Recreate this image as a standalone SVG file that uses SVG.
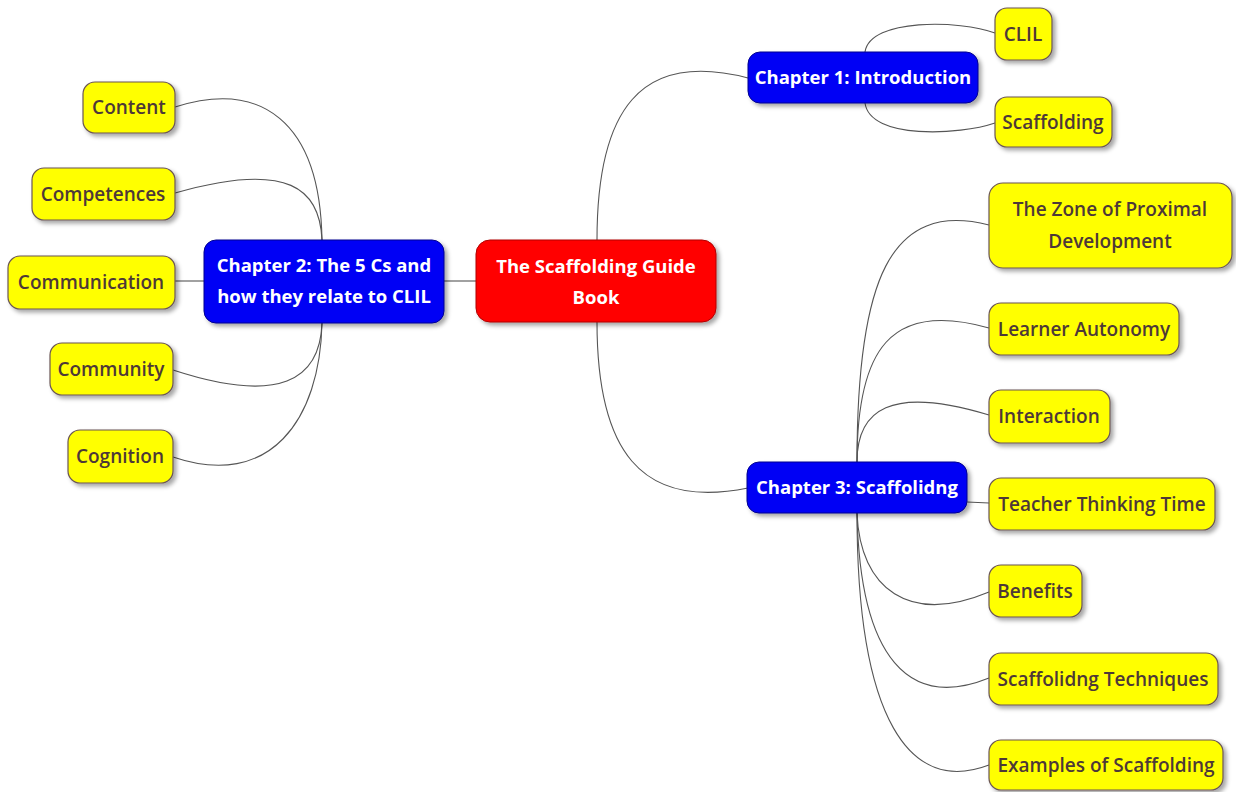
<svg xmlns="http://www.w3.org/2000/svg" width="1236" height="792" viewBox="0 0 1236 792">
<defs>
<filter id="sh" x="-10%" y="-20%" width="130%" height="150%">
<feDropShadow dx="3" dy="3" stdDeviation="2" flood-color="#000" flood-opacity="0.35"/>
</filter>
<style>
.leaf rect{fill:#ffff00;stroke:#6b5555;stroke-width:1.2;filter:url(#sh)}
.leaf text{fill:#4d3838;font-family:"Open Sans","Noto Sans",sans-serif;font-weight:600;font-size:19px;text-anchor:middle}
.chap rect{fill:#0000f5;stroke:#000090;stroke-width:1;filter:url(#sh)}
.chap text,.root text{fill:#fff;font-family:"Open Sans","Noto Sans",sans-serif;font-weight:700;font-size:18.5px;text-anchor:middle}
.root rect{fill:#ff0000;stroke:#b00000;stroke-width:1;filter:url(#sh)}
#connectors path{fill:none;stroke:#555;stroke-width:1.1}
</style>
</defs>
<rect width="1236" height="792" fill="#ffffff"/>
<g id="connectors">
<path d="M597 240 C597 110 640 50 748 78"/>
<path d="M597 322 C597 450 640 510 748 488"/>
<path d="M444 281 L476 281"/>
<path d="M865 52 C870 18 960 20 995 33"/>
<path d="M865 103 C870 140 960 135 995 123"/>
<path d="M322 240 C320 120 260 80 175 107"/>
<path d="M322 240 C320 190 290 160 175 193"/>
<path d="M175 281 L204 281"/>
<path d="M322 323 C320 380 280 405 173 370"/>
<path d="M322 323 C320 420 270 490 173 457"/>
<path d="M857 462 C857 280 890 200 989 225"/>
<path d="M857 462 C857 350 890 300 989 328"/>
<path d="M857 462 C857 410 890 385 989 415"/>
<path d="M967 502 L989 503"/>
<path d="M857 513 C860 590 910 625 989 592"/>
<path d="M857 513 C860 660 910 710 989 678"/>
<path d="M857 513 C857 720 910 795 989 765"/>
</g>
<g id="root" class="root"><rect x="476" y="240" width="240" height="82" rx="14"/><text x="596" y="273">The Scaffolding Guide</text><text x="596" y="304">Book</text></g>
<g id="ch1" class="chap"><rect x="748" y="52" width="230" height="51" rx="12"/><text x="863" y="84">Chapter 1: Introduction</text></g>
<g id="ch2" class="chap"><rect x="204" y="240" width="240" height="83" rx="12"/><text x="324" y="272">Chapter 2: The 5 Cs and</text><text x="324" y="303">how they relate to CLIL</text></g>
<g id="ch3" class="chap"><rect x="747" y="462" width="220" height="51" rx="12"/><text x="857" y="494">Chapter 3: Scaffolidng</text></g>
<g id="clil" class="leaf"><rect x="995" y="8" width="57" height="52" rx="12"/><text x="1023" y="41">CLIL</text></g>
<g id="scaffolding" class="leaf"><rect x="995" y="97" width="117" height="50" rx="12"/><text x="1053" y="129">Scaffolding</text></g>
<g id="content" class="leaf"><rect x="83" y="82" width="92" height="51" rx="12"/><text x="129" y="114">Content</text></g>
<g id="competences" class="leaf"><rect x="32" y="168" width="143" height="52" rx="12"/><text x="103" y="201">Competences</text></g>
<g id="communication" class="leaf"><rect x="8" y="256" width="167" height="53" rx="12"/><text x="91" y="289">Communication</text></g>
<g id="community" class="leaf"><rect x="50" y="343" width="123" height="52" rx="12"/><text x="111" y="376">Community</text></g>
<g id="cognition" class="leaf"><rect x="68" y="430" width="105" height="53" rx="12"/><text x="120" y="463">Cognition</text></g>
<g id="zpd" class="leaf"><rect x="989" y="183" width="243" height="85" rx="14"/><text x="1110" y="216">The Zone of Proximal</text><text x="1110" y="248">Development</text></g>
<g id="autonomy" class="leaf"><rect x="989" y="303" width="190" height="52" rx="12"/><text x="1084" y="336">Learner Autonomy</text></g>
<g id="interaction" class="leaf"><rect x="989" y="390" width="121" height="53" rx="12"/><text x="1049" y="423">Interaction</text></g>
<g id="ttt" class="leaf"><rect x="989" y="478" width="226" height="52" rx="12"/><text x="1102" y="511">Teacher Thinking Time</text></g>
<g id="benefits" class="leaf"><rect x="989" y="565" width="93" height="52" rx="12"/><text x="1035" y="598">Benefits</text></g>
<g id="techniques" class="leaf"><rect x="989" y="653" width="229" height="52" rx="12"/><text x="1103" y="686">Scaffolidng Techniques</text></g>
<g id="examples" class="leaf"><rect x="989" y="740" width="234" height="50" rx="12"/><text x="1106" y="772">Examples of Scaffolding</text></g>
</svg>
